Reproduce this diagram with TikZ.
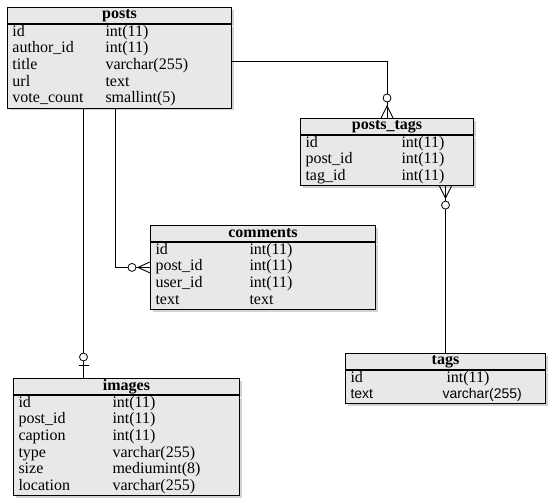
\documentclass[tikz,border=0pt]{standalone}
\usepackage{fontspec}
\setmainfont{Liberation Serif}
\newfontfamily\tagsans{Liberation Sans}
\usetikzlibrary{positioning,shadows}
\definecolor{tblfill}{gray}{0.91}
\newcommand\tblfont{\fontsize{16}{16.7}\selectfont}
\tikzset{%
  tblhead/.style={draw,line width=1pt,fill=tblfill,font=\tblfont\bfseries,inner sep=0pt,minimum height=16pt,anchor=north west,drop shadow={opacity=0.35}},
  tblbody/.style={draw,line width=1pt,fill=tblfill,inner xsep=5pt,inner ysep=0pt,drop shadow={opacity=0.35}},
  conn/.style={line width=0.9pt},
  zero/.style={draw,circle,line width=0.8pt,fill=white,inner sep=0pt,minimum size=8pt}%
}

\begin{document}
\begin{tikzpicture}[
    x=1pt, y=-1pt,
    font=\tblfont
]
\fill[white] (0,0) rectangle (553,503);
\useasboundingbox (0,0) rectangle (553,503);

% Tables
\node[tblhead, minimum width=224pt] (posts) at (7,7) {posts};
\node[tblbody, text width=214pt, below=0pt of posts] (postsbody) {%
\begin{tabular}{@{}p{93pt}@{}l@{}}
id & int(11)\\
author\_id & int(11)\\
title & varchar(255)\\
url & text\\
vote\_count & smallint(5)
\end{tabular}};

\node[tblhead, minimum width=173pt] (ptags) at (300,118) {posts\_tags};
\node[tblbody, text width=163pt, below=0pt of ptags] (ptagsbody) {%
\begin{tabular}{@{}p{96pt}@{}l@{}}
id & int(11)\\
post\_id & int(11)\\
tag\_id & int(11)
\end{tabular}};

\node[tblhead, minimum width=225pt] (comments) at (150,225) {comments};
\node[tblbody, text width=215pt, below=0pt of comments] (commentsbody) {%
\begin{tabular}{@{}p{94pt}@{}l@{}}
id & int(11)\\
post\_id & int(11)\\
user\_id & int(11)\\
text & text
\end{tabular}};

\node[tblhead, minimum width=226pt] (images) at (13,378) {images};
\node[tblbody, text width=216pt, below=0pt of images] (imagesbody) {%
\begin{tabular}{@{}p{94pt}@{}l@{}}
id & int(11)\\
post\_id & int(11)\\
caption & int(11)\\
type & varchar(255)\\
size & mediumint(8)\\
location & varchar(255)
\end{tabular}};

\node[tblhead, minimum width=200pt] (tags) at (345,353) {tags};
\node[tblbody, text width=190pt, below=0pt of tags] (tagsbody) {%
\begin{tabular}{@{}p{92pt}@{}l@{}}
id & \hspace{4pt}int(11)\\
{\tagsans\fontsize{14}{16.7}\selectfont text} & {\tagsans\fontsize{14}{16.7}\selectfont varchar(255)}
\end{tabular}};

% posts -> posts_tags
\draw[conn] ([yshift=4.5pt]postsbody.east) -| (ptags.north);
\draw[conn] ([xshift=-6pt]ptags.north) -- ([yshift=12pt]ptags.north) -- ([xshift=6pt]ptags.north);
\node[zero] (ptagszero) at ([yshift=20pt]ptags.north) {};

% posts_tags -> tags
\coordinate (tagsrc) at (ptagsbody.south -| tags.north);
\draw[conn] (tagsrc) -- (tags.north);
\draw[conn] ([xshift=-6pt]tagsrc) -- ([yshift=-12pt]tagsrc) -- ([xshift=6pt]tagsrc);
\node[zero] (tagszero) at ([yshift=-19pt]tagsrc) {};

% posts -> comments
\coordinate (comsrc) at ([xshift=-4pt]postsbody.south);
\coordinate (comend) at ([yshift=8.5pt]commentsbody.west);
\draw[conn] (comsrc) |- (comend);
\draw[conn] ([yshift=5.5pt]comend) -- ([xshift=-12pt]comend) -- ([yshift=-5.5pt]comend);
\node[zero] (comzero) at ([xshift=-18pt]comend) {};

% posts -> images
\coordinate (imgsrc) at ([xshift=-36pt]postsbody.south);
\coordinate (imgend) at (imgsrc |- images.north);
\draw[conn] (imgsrc) -- (imgend);
\draw[conn] ([xshift=-5pt,yshift=13pt]imgend) -- ([xshift=5pt,yshift=13pt]imgend);
\node[zero] (imgzero) at ([yshift=21pt]imgend) {};

\end{tikzpicture}
\end{document}
